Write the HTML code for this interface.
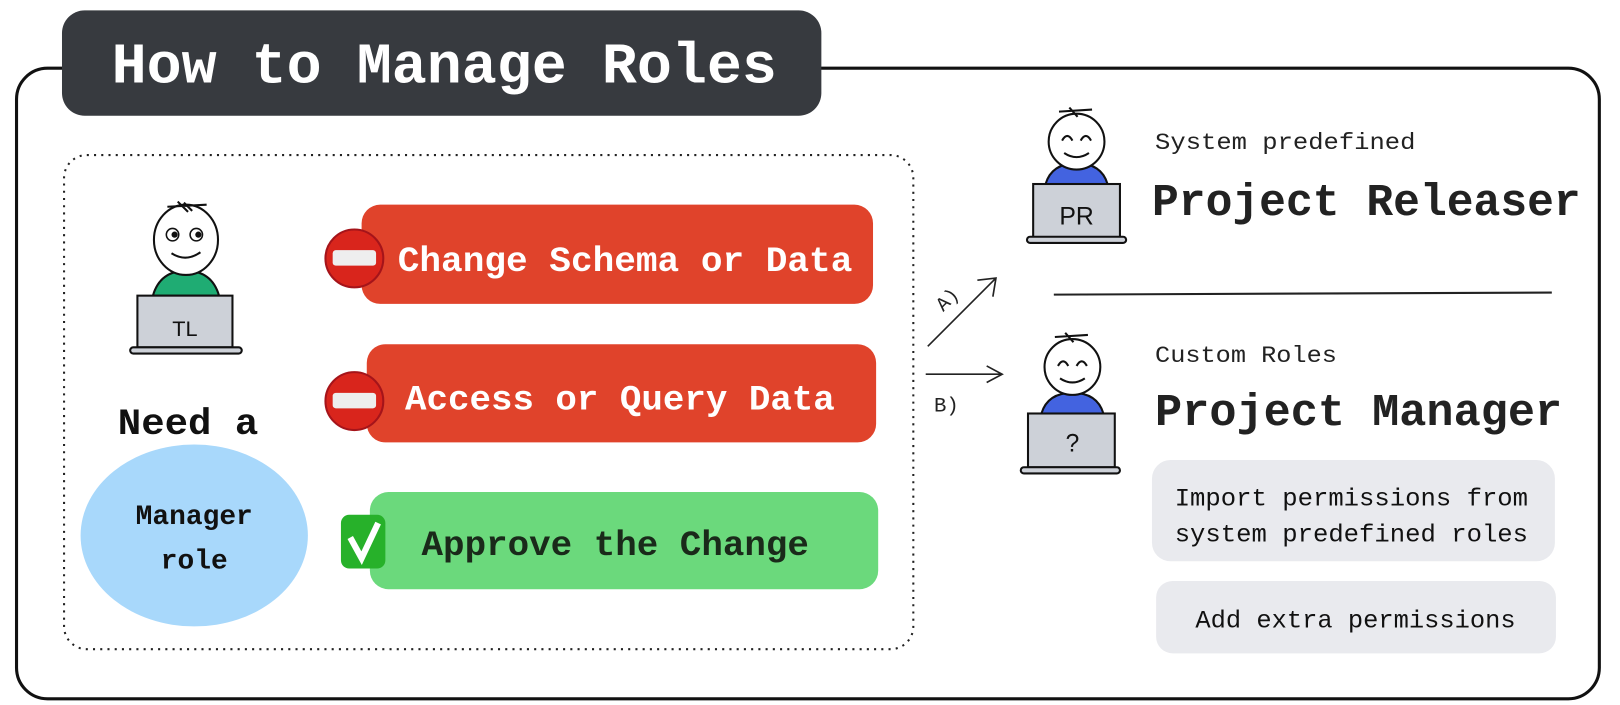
<!DOCTYPE html>
<html><head><meta charset="utf-8"><style>
html,body{margin:0;padding:0;background:#fff;width:1620px;height:705px;overflow:hidden}
svg{display:block}
text{font-family:"Liberation Mono",monospace}
</style></head><body>
<svg width="1620" height="705" viewBox="0 0 1568 682" preserveAspectRatio="none" xmlns="http://www.w3.org/2000/svg">
<rect x="16" y="66" width="1532" height="610" rx="30" fill="#fff" stroke="#111" stroke-width="3"/>
<rect x="60" y="10" width="735" height="102" rx="22" fill="#373a3f"/>
<text x="108" y="80" font-size="56" font-weight="bold" fill="#fff" textLength="644" lengthAdjust="spacingAndGlyphs">How to Manage Roles</text>

<rect x="62" y="150" width="822" height="478" rx="22" fill="none" stroke="#222" stroke-width="2" stroke-dasharray="2 5"/>

<!-- TL person -->
<g stroke="#111" stroke-width="2">
<path d="M148 286 Q155 262 180 262 Q205 262 212 286 Z" fill="#1fac73"/>
<ellipse cx="180" cy="232" rx="31" ry="34" fill="#fff"/>
<rect x="133" y="286" width="92" height="50" fill="#cdd1d8"/>
<rect x="126" y="336" width="108" height="6" rx="3" fill="#cdd1d8"/>
</g>
<path d="M162 200 L200 198 M172 195 L182 205 M178 196 L186 204" stroke="#111" stroke-width="2"/>
<circle cx="167" cy="227" r="6" fill="#fff" stroke="#111" stroke-width="1.5"/><circle cx="169" cy="227" r="3" fill="#111"/>
<circle cx="190" cy="227" r="6" fill="#fff" stroke="#111" stroke-width="1.5"/><circle cx="192" cy="227" r="3" fill="#111"/>
<path d="M166 245 Q180 254 194 244" fill="none" stroke="#111" stroke-width="2"/>
<text x="179" y="325" style="font-family:'Liberation Sans',sans-serif" font-size="21" fill="#111" text-anchor="middle">TL</text>

<text x="114" y="420" font-size="36" font-weight="bold" fill="#111" textLength="136" lengthAdjust="spacingAndGlyphs">Need a</text>
<ellipse cx="188" cy="518" rx="110" ry="88" fill="#a8d8fb"/>
<text x="188" y="507" font-size="27" font-weight="bold" fill="#111" text-anchor="middle">Manager</text>
<text x="188" y="550" font-size="27" font-weight="bold" fill="#111" text-anchor="middle">role</text>

<rect x="350" y="198" width="495" height="96" rx="18" fill="#e0432b"/>
<circle cx="343" cy="250" r="28" fill="#d9251c" stroke="#a5141a" stroke-width="2"/>
<rect x="322" y="242" width="42" height="15" rx="3" fill="#eee"/>
<text x="385" y="262" font-size="34" font-weight="bold" fill="#fff" textLength="440" lengthAdjust="spacingAndGlyphs">Change Schema or Data</text>

<rect x="355" y="333" width="493" height="95" rx="18" fill="#e0432b"/>
<circle cx="343" cy="388" r="28" fill="#d9251c" stroke="#a5141a" stroke-width="2"/>
<rect x="322" y="380" width="42" height="15" rx="3" fill="#eee"/>
<text x="392" y="396" font-size="34" font-weight="bold" fill="#fff" textLength="416" lengthAdjust="spacingAndGlyphs">Access or Query Data</text>

<rect x="358" y="476" width="492" height="94" rx="18" fill="#6bd97c"/>
<rect x="330" y="498" width="43" height="52" rx="8" fill="#27b12a"/>
<path d="M339 520 L350 540 L366 506" fill="none" stroke="#fff" stroke-width="6"/>
<text x="408" y="537" font-size="34" font-weight="bold" fill="#1a2a1a" textLength="375" lengthAdjust="spacingAndGlyphs">Approve the Change</text>

<!-- arrows -->
<g stroke="#222" stroke-width="1.6" fill="none">
<path d="M898 335 L964 269 M946 271 L964 269 L961 287"/>
<path d="M896 362 L970 362 M955 354 L970 362 L955 370"/>
</g>
<text x="0" y="0" font-size="19" fill="#222" transform="translate(913 302) rotate(-45)">A)</text>
<text x="904" y="398" font-size="20" fill="#222">B)</text>

<!-- PR person -->
<g stroke="#111" stroke-width="2">
<path d="M1012 178 Q1018 158 1042 158 Q1066 158 1072 178 Z" fill="#4363e0"/>
<circle cx="1042" cy="137" r="27" fill="#fff"/>
<rect x="1000" y="178" width="84" height="52" fill="#cdd1d8"/>
<rect x="994" y="229" width="96" height="6" rx="3" fill="#cdd1d8"/>
</g>
<path d="M1025 108 L1057 106 M1035 104 L1043 113" stroke="#111" stroke-width="2"/>
<path d="M1028 136 Q1033 127 1038 136 M1046 136 Q1051 127 1056 136 M1030 148 Q1042 156 1054 148" fill="none" stroke="#111" stroke-width="2"/>
<text x="1042" y="217" style="font-family:'Liberation Sans',sans-serif" font-size="24" fill="#111" text-anchor="middle">PR</text>
<text x="1118" y="144" font-size="22" fill="#222" textLength="252" lengthAdjust="spacingAndGlyphs">System predefined</text>
<text x="1115" y="208" font-size="44" font-weight="bold" fill="#222" textLength="415" lengthAdjust="spacingAndGlyphs">Project Releaser</text>

<path d="M1020 285 L1502 283" stroke="#222" stroke-width="2"/>

<!-- PM person -->
<g stroke="#111" stroke-width="2">
<path d="M1008 400 Q1014 380 1038 380 Q1062 380 1068 400 Z" fill="#4363e0"/>
<circle cx="1038" cy="355" r="27" fill="#fff"/>
<rect x="995" y="400" width="84" height="52" fill="#cdd1d8"/>
<rect x="988" y="452" width="96" height="6" rx="3" fill="#cdd1d8"/>
</g>
<path d="M1021 326 L1053 324 M1031 322 L1039 331" stroke="#111" stroke-width="2"/>
<path d="M1024 354 Q1029 345 1034 354 M1042 354 Q1047 345 1052 354 M1026 366 Q1038 374 1050 366" fill="none" stroke="#111" stroke-width="2"/>
<text x="1038" y="437" style="font-family:'Liberation Sans',sans-serif" font-size="24" fill="#111" text-anchor="middle">?</text>
<text x="1118" y="350" font-size="22" fill="#222" textLength="176" lengthAdjust="spacingAndGlyphs">Custom Roles</text>
<text x="1118" y="411" font-size="44" font-weight="bold" fill="#222" textLength="394" lengthAdjust="spacingAndGlyphs">Project Manager</text>

<rect x="1115" y="445" width="390" height="98" rx="18" fill="#e9eaee"/>
<text x="1137" y="489" font-size="24" fill="#111" textLength="342" lengthAdjust="spacingAndGlyphs">Import permissions from</text>
<text x="1137" y="524" font-size="24" fill="#111" textLength="342" lengthAdjust="spacingAndGlyphs">system predefined roles</text>
<rect x="1119" y="562" width="387" height="70" rx="16" fill="#e9eaee"/>
<text x="1157" y="607" font-size="24" fill="#111" textLength="310" lengthAdjust="spacingAndGlyphs">Add extra permissions</text>
</svg>
</body></html>
